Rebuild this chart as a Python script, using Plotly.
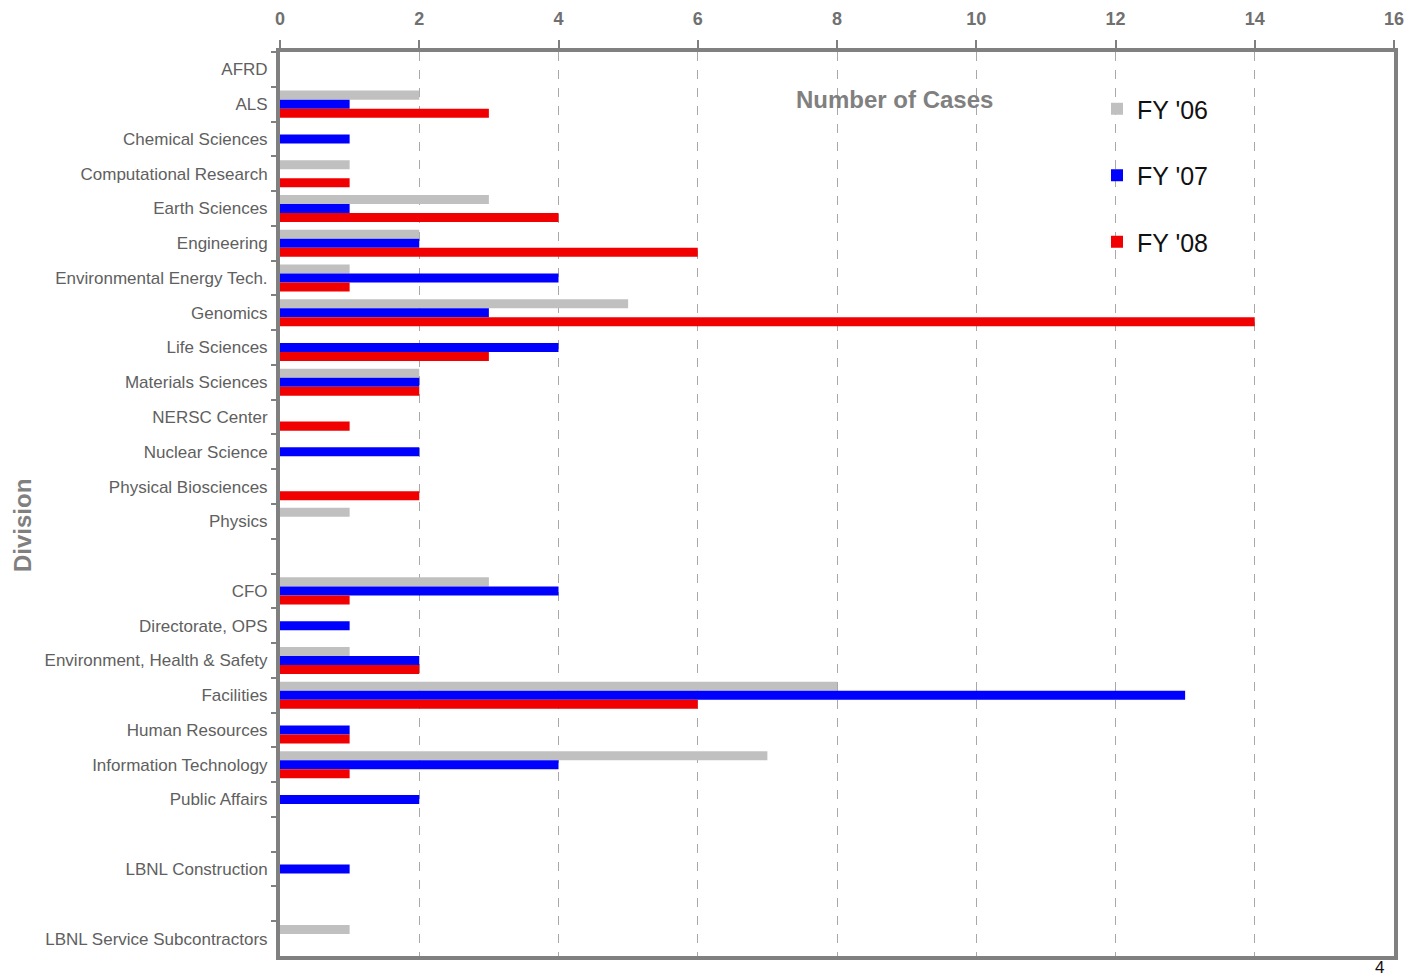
import plotly.graph_objects as go

divisions = [
    "AFRD", "ALS", "Chemical Sciences", "Computational Research", "Earth Sciences",
    "Engineering", "Environmental Energy Tech.", "Genomics", "Life Sciences",
    "Materials Sciences", "NERSC Center", "Nuclear Science", "Physical Biosciences",
    "Physics", " ", "CFO", "Directorate, OPS", "Environment, Health & Safety",
    "Facilities", "Human Resources", "Information Technology", "Public Affairs",
    "  ", "LBNL Construction", "   ", "LBNL Service Subcontractors",
]
fy06 = [None, 2, None, 1, 3, 2, 1, 5, None, 2, None, None, None, 1, None,
        3, None, 1, 8, None, 7, None, None, None, None, 1]
fy07 = [None, 1, 1, None, 1, 2, 4, 3, 4, 2, None, 2, None, None, None,
        4, 1, 2, 13, 1, 4, 2, None, 1, None, None]
fy08 = [None, 3, None, 1, 4, 6, 1, 14, 3, 2, 1, None, 2, None, None,
        1, None, 2, 6, 1, 1, None, None, None, None, None]
series_names = ["FY '06", "FY '07", "FY '08"]
series_colors = ["#C0C0C0", "#0000FF", "#F00000"]
x_ticks = [0, 2, 4, 6, 8, 10, 12, 14, 16]

L, R, T, B = 280, 16, 52, 21
W, H = 1410, 977
PW, PH = W - L - R, H - T - B


def px_x(px):
    return (px - L) / PW


def px_y(py):
    return (H - B - py) / PH


fig = go.Figure()
for i, (name, vals, col) in enumerate(zip(series_names, [fy06, fy07, fy08], series_colors)):
    fig.add_trace(go.Bar(
        y=divisions, x=vals, name=name, orientation="h",
        marker=dict(color=col, line=dict(width=0)),
        legendgroup=f"g{i}",
    ))

axis_gray = "#808080"
fig.update_layout(
    template="none",
    width=W, height=H,
    margin=dict(l=L, r=R, t=T, b=B, pad=0),
    paper_bgcolor="white", plot_bgcolor="white",
    barmode="group", bargap=0.22, bargroupgap=0,
    font=dict(family="Liberation Sans, Arial, sans-serif", color="#606060"),
    showlegend=True,
    legend=dict(
        x=px_x(1097), y=px_y(86), xanchor="left", yanchor="top",
        traceorder="grouped", tracegroupgap=31,
        font=dict(size=25, color="#111111", family="Liberation Sans, Arial, sans-serif"),
        bgcolor="rgba(0,0,0,0)", borderwidth=0, itemwidth=30,
    ),
    xaxis=dict(
        side="top", range=[0, 16], tickvals=x_ticks, automargin=False,
        showline=True, mirror=True, linecolor=axis_gray, linewidth=4,
        ticks="outside", ticklen=8, tickwidth=2, tickcolor=axis_gray,
        tickfont=dict(size=18, color="#707070", family="Liberation Sans, Arial, sans-serif", weight="bold"),
        ticklabelstandoff=8,
        showgrid=True, gridcolor="#A8A8A8", gridwidth=1, griddash="dash",
        zeroline=False,
    ),
    yaxis=dict(
        categoryorder="array", categoryarray=divisions, autorange="reversed",
        automargin=False,
        showline=True, mirror=True, linecolor=axis_gray, linewidth=4,
        ticks="outside", tickson="boundaries", ticklen=5, tickwidth=2, tickcolor=axis_gray,
        tickfont=dict(size=17, color="#606060", family="Liberation Sans, Arial, sans-serif"),
        ticklabelstandoff=5,
        showgrid=False, zeroline=False,
    ),
    annotations=[
        dict(text="Number of Cases", xref="paper", yref="paper",
             x=px_x(894), y=px_y(100), xanchor="center", yanchor="middle",
             showarrow=False, font=dict(size=24, color=axis_gray, weight="bold")),
        dict(text="Division", xref="paper", yref="paper", textangle=-90,
             x=px_x(22), y=px_y(526), xanchor="center", yanchor="middle",
             showarrow=False, font=dict(size=24, color=axis_gray, weight="bold")),
        dict(text="4", xref="paper", yref="paper",
             x=px_x(1379), y=px_y(968), xanchor="center", yanchor="middle",
             showarrow=False, font=dict(size=17, color="#111111")),
    ],
)

fig.write_html("out.html")
